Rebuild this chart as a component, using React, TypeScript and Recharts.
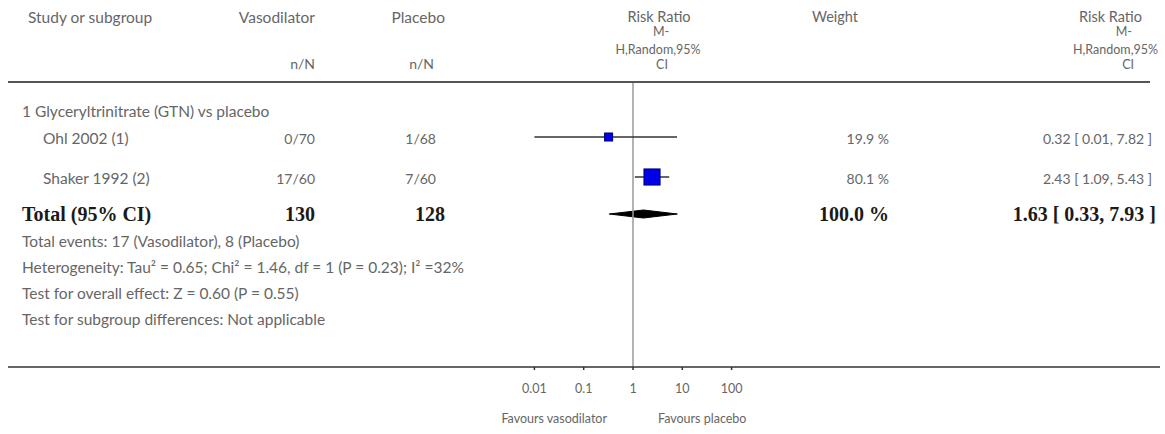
import React from 'react';
import {
  ComposedChart,
  XAxis,
  YAxis,
  Scatter,
  Area,
  ReferenceLine,
} from 'recharts';

// ---- data ----
const STUDIES = ['Ohl 2002 (1)', 'Shaker 1992 (2)'];
const VASO_NN = ['0/70', '17/60'];
const PLAC_NN = ['1/68', '7/60'];
const RR = [0.32, 2.43];
const RR_LO = [0.01, 1.09];
const RR_HI = [7.82, 5.43];
const WEIGHT = [19.9, 80.1];

const TOTAL_N = [130, 128];
const TOTAL_RR = 1.63;
const TOTAL_LO = 0.33;
const TOTAL_HI = 7.93;
const TOTAL_WEIGHT = 100.0;

const AXIS_TICKS = [0.01, 0.1, 1, 10, 100];
const TICK_LABELS = ['0.01', '0.1', '1', '10', '100'];

const SUBGROUP = '1 Glyceryltrinitrate (GTN) vs placebo';
const FOOTNOTES = [
  'Total events: 17 (Vasodilator), 8 (Placebo)',
  'Heterogeneity: Tau\u00b2 = 0.65; Chi\u00b2 = 1.46, df = 1 (P = 0.23); I\u00b2 =32%',
  'Test for overall effect: Z = 0.60 (P = 0.55)',
  'Test for subgroup differences: Not applicable',
];

// ---- layout ----
const W = 1165;
const H = 434;
const PLOT_TOP = 82;
const AXIS_Y = 367;
const PLOT_LEFT = 8;
const PLOT_RIGHT = 1160;
const X_ONE = 633;
const DECADE_PX = 49.3;
const X_AXIS_H = 50;
const X_MIN = 10 ** ((PLOT_LEFT - X_ONE) / DECADE_PX);
const X_MAX = 10 ** ((PLOT_RIGHT - X_ONE) / DECADE_PX);

const STUDY_Y = [139, 179];
const TOTAL_Y = 214;
const SUBGROUP_Y = 112;
const FOOT_Y = [242, 268, 294, 320];

const COL = {
  name: 43,
  heading: 22,
  vaso: 315,
  plac: 436,
  weight: 889,
  ci: 1152,
};

const SQUARE_K = 1.8;
const DIAMOND_HALF = 4;

const SANS = 'Lato, "Open Sans", sans-serif';
const SERIF = '"Liberation Serif", "DejaVu Serif", serif';
const GREY = '#666';

const fmt2 = (v: number) => v.toFixed(2);
const ciText = (r: number, lo: number, hi: number) =>
  `${fmt2(r)} [ ${fmt2(lo)}, ${fmt2(hi)} ]`;

type Align = 'left' | 'right' | 'center';

const T: React.FC<{
  x: number;
  y: number;
  align?: Align;
  style?: React.CSSProperties;
  children: React.ReactNode;
}> = ({ x, y, align = 'left', style, children }) => {
  const pos: React.CSSProperties =
    align === 'right'
      ? { right: W - x, transform: 'translateY(-50%)' }
      : align === 'center'
      ? { left: x, transform: 'translate(-50%, -50%)' }
      : { left: x, transform: 'translateY(-50%)' };
  return (
    <div
      style={{
        position: 'absolute',
        top: y,
        whiteSpace: 'nowrap',
        lineHeight: 1,
        fontFamily: SANS,
        fontSize: 15.5,
        color: GREY,
        ...pos,
        ...style,
      }}
    >
      {children}
    </div>
  );
};

const Square = (props: any) => {
  const { cx, cy, payload } = props;
  const s = payload.side;
  return (
    <rect
      x={cx - s / 2}
      y={cy - s / 2}
      width={s}
      height={s}
      fill="#0000e8"
      stroke="#000070"
      strokeWidth={1}
    />
  );
};

const NoPoint = () => <g />;

export default function App() {
  const py = (pageY: number) => pageY - PLOT_TOP;

  const squares = RR.map((r, i) => ({
    x: r,
    y: py(STUDY_Y[i] - 2),
    side: SQUARE_K * Math.sqrt(WEIGHT[i]),
  }));
  const ciLines = RR.map((_, i) => [
    { x: RR_LO[i], y: py(STUDY_Y[i] - 2) },
    { x: RR_HI[i], y: py(STUDY_Y[i] - 2) },
  ]);
  const ty = py(TOTAL_Y);
  const diamond = [
    { x: TOTAL_LO, band: [ty, ty] },
    { x: TOTAL_RR, band: [ty - DIAMOND_HALF, ty + DIAMOND_HALF] },
    { x: TOTAL_HI, band: [ty, ty] },
  ];

  const bold: React.CSSProperties = {
    fontFamily: SERIF,
    fontWeight: 700,
    fontSize: 20,
    color: '#1a1a1a',
  };
  const hdr: React.CSSProperties = { fontSize: 14.5 };
  const small: React.CSSProperties = { fontSize: 12.5 };
  const num: React.CSSProperties = { fontSize: 14 };

  return (
    <div
      style={{
        position: 'absolute',
        left: 0,
        top: 0,
        width: W,
        height: H,
        background: '#fff',
      }}
    >
      <ComposedChart
        width={W}
        height={H}
        margin={{
          top: PLOT_TOP,
          right: W - PLOT_RIGHT,
          left: PLOT_LEFT,
          bottom: H - AXIS_Y - X_AXIS_H,
        }}
      >
        <XAxis
          type="number"
          dataKey="x"
          scale="log"
          domain={[X_MIN, X_MAX]}
          allowDataOverflow
          ticks={AXIS_TICKS}
          tickFormatter={(v: number) => TICK_LABELS[AXIS_TICKS.indexOf(v)] ?? String(v)}
          height={X_AXIS_H}
          axisLine={{ stroke: '#333', strokeWidth: 1.5 }}
          tickLine={{ stroke: '#333', strokeWidth: 1.5 }}
          tickSize={3}
          tickMargin={14}
          tick={{ fontSize: 12.5, fill: '#666', fontFamily: SANS }}
          interval={0}
        />
        <YAxis
          type="number"
          dataKey="y"
          domain={[0, AXIS_Y - PLOT_TOP]}
          reversed
          allowDataOverflow
          hide
        />
        <ReferenceLine x={1} stroke="#9a9a9a" strokeWidth={1.5} />
        {ciLines.map((d, i) => (
          <Scatter
            key={`ci-${i}`}
            data={d}
            line={{ stroke: '#333', strokeWidth: 1.5 }}
            shape={NoPoint}
            isAnimationActive={false}
          />
        ))}
        <Scatter data={squares} shape={Square} isAnimationActive={false} />
        <Area
          data={diamond}
          dataKey="band"
          type="linear"
          fill="#000"
          fillOpacity={1}
          stroke="#000"
          strokeWidth={1}
          dot={false}
          activeDot={false}
          isAnimationActive={false}
        />
      </ComposedChart>

      {/* top rule */}
      <div
        style={{
          position: 'absolute',
          left: PLOT_LEFT,
          top: PLOT_TOP - 1,
          width: 1150 - PLOT_LEFT,
          height: 2,
          background: '#555',
        }}
      />

      {/* header */}
      <T x={28} y={18}>Study or subgroup</T>
      <T x={COL.vaso} y={18} align="right">Vasodilator</T>
      <T x={445} y={18} align="right">Placebo</T>
      <T x={COL.vaso} y={64} align="right" style={num}>n/N</T>
      <T x={COL.plac - 2} y={64} align="right" style={num}>n/N</T>
      <T x={659} y={17} align="center" style={hdr}>Risk Ratio</T>
      <T x={661} y={32} align="center" style={small}>M-</T>
      <T x={658} y={50} align="center" style={small}>H,Random,95%</T>
      <T x={662} y={65} align="center" style={small}>CI</T>
      <T x={835} y={17} align="center" style={hdr}>Weight</T>
      <T x={1142} y={17} align="right" style={hdr}>Risk Ratio</T>
      <T x={1132} y={32} align="right" style={small}>M-</T>
      <T x={1158} y={50} align="right" style={small}>H,Random,95%</T>
      <T x={1134} y={65} align="right" style={small}>CI</T>

      {/* subgroup and studies */}
      <T x={COL.heading} y={SUBGROUP_Y}>{SUBGROUP}</T>
      {STUDIES.map((s, i) => (
        <React.Fragment key={s}>
          <T x={COL.name} y={STUDY_Y[i]}>{s}</T>
          <T x={COL.vaso} y={STUDY_Y[i]} align="right" style={num}>{VASO_NN[i]}</T>
          <T x={COL.plac} y={STUDY_Y[i]} align="right" style={num}>{PLAC_NN[i]}</T>
          <T x={COL.weight} y={STUDY_Y[i]} align="right" style={num}>
            {WEIGHT[i].toFixed(1)} %
          </T>
          <T x={COL.ci} y={STUDY_Y[i]} align="right" style={num}>
            {ciText(RR[i], RR_LO[i], RR_HI[i])}
          </T>
        </React.Fragment>
      ))}

      {/* total */}
      <T x={COL.heading} y={TOTAL_Y} style={bold}>Total (95% CI)</T>
      <T x={COL.vaso} y={TOTAL_Y} align="right" style={bold}>{TOTAL_N[0]}</T>
      <T x={445} y={TOTAL_Y} align="right" style={bold}>{TOTAL_N[1]}</T>
      <T x={COL.weight} y={TOTAL_Y} align="right" style={bold}>
        {TOTAL_WEIGHT.toFixed(1)} %
      </T>
      <T x={COL.ci + 4} y={TOTAL_Y} align="right" style={bold}>
        {ciText(TOTAL_RR, TOTAL_LO, TOTAL_HI)}
      </T>

      {FOOTNOTES.map((f, i) => (
        <T key={f} x={COL.heading} y={FOOT_Y[i]}>{f}</T>
      ))}

      {/* favours labels */}
      <T x={607} y={419} align="right" style={small}>Favours vasodilator</T>
      <T x={658} y={419} style={small}>Favours placebo</T>
    </div>
  );
}
